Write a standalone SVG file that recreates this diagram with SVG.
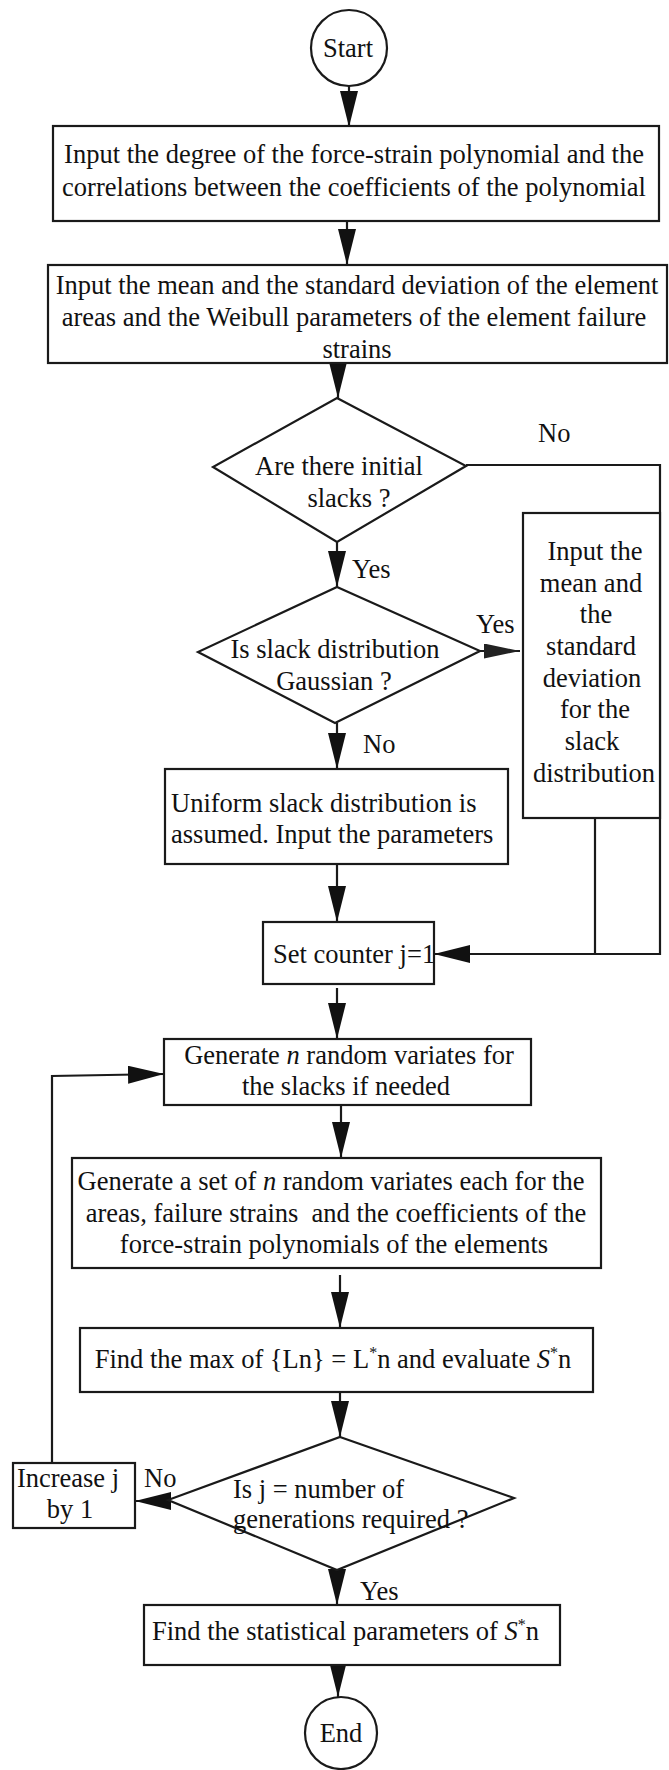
<svg xmlns="http://www.w3.org/2000/svg" width="669" height="1770" viewBox="0 0 669 1770">
<style>
.n{fill:#fff;stroke:#1a1a1a;stroke-width:2.2}
.c{fill:none;stroke:#1a1a1a;stroke-width:2.2}
text{font-family:"Liberation Serif","Times New Roman",serif;font-size:26.5px;fill:#111}
.m{text-anchor:middle}
.sup{font-size:16px}
</style>
<defs>
<marker id="ah" viewBox="0 0 36 18" refX="36" refY="9" markerWidth="36" markerHeight="18" markerUnits="userSpaceOnUse" orient="auto">
<path d="M0,0 L36,9 L0,18 z" fill="#111"/>
</marker>
<marker id="ahs" viewBox="0 0 36 15" refX="36" refY="7.5" markerWidth="36" markerHeight="15" markerUnits="userSpaceOnUse" orient="auto">
<path d="M0,0 L36,7.5 L0,15 z" fill="#222"/>
</marker>
</defs>
<rect width="669" height="1770" fill="#fff"/>

<g id="connectors">
<line class="c" x1="349" y1="86" x2="349" y2="127" marker-end="url(#ah)"/>
<line class="c" x1="347" y1="222" x2="347" y2="265" marker-end="url(#ah)"/>
<line class="c" x1="338" y1="363" x2="338" y2="398" marker-end="url(#ah)"/>
<line class="c" x1="337" y1="542" x2="337" y2="587" marker-end="url(#ah)"/>
<line class="c" x1="480" y1="651" x2="520" y2="651" marker-end="url(#ahs)"/>
<polyline class="c" points="466,465 660,465 660,954 434,954" marker-end="url(#ah)"/>
<line class="c" x1="595" y1="818" x2="595" y2="954"/>
<line class="c" x1="337" y1="723" x2="337" y2="769" marker-end="url(#ah)"/>
<line class="c" x1="337" y1="864" x2="337" y2="922" marker-end="url(#ah)"/>
<line class="c" x1="337" y1="988" x2="337" y2="1039" marker-end="url(#ah)"/>
<line class="c" x1="341" y1="1105" x2="341" y2="1158" marker-end="url(#ah)"/>
<line class="c" x1="340" y1="1275" x2="340" y2="1328" marker-end="url(#ah)"/>
<line class="c" x1="340" y1="1392" x2="340" y2="1437" marker-end="url(#ah)"/>
<line class="c" x1="168" y1="1501" x2="135" y2="1501" marker-end="url(#ah)"/>
<line class="c" x1="337" y1="1570" x2="337" y2="1605" marker-end="url(#ah)"/>
<line class="c" x1="338" y1="1665" x2="338" y2="1697" marker-end="url(#ah)"/>
<polyline class="c" points="52,1463 52,1076 164,1074" marker-end="url(#ah)"/>
</g>

<g id="start">
<circle class="n" cx="349" cy="48" r="38"/>
<text class="m" x="348" y="57">Start</text>
</g>

<g id="input-degree">
<rect class="n" x="53" y="126" width="606" height="95"/>
<text class="m" x="354" y="163">Input the degree of the force-strain polynomial and the</text>
<text class="m" x="354" y="196">correlations between the coefficients of the polynomial</text>
</g>

<g id="input-mean">
<rect class="n" x="48" y="265" width="619" height="98"/>
<text class="m" x="357" y="294">Input the mean and the standard deviation of the element</text>
<text class="m" x="354" y="326">areas and the Weibull parameters of the element failure</text>
<text class="m" x="357" y="358">strains</text>
</g>

<g id="initial-slacks">
<polygon class="n" points="337,398 466,466 337,542 213,467"/>
<text class="m" x="339" y="475">Are there initial</text>
<text class="m" x="349" y="507">slacks ?</text>
</g>

<g id="gaussian">
<polygon class="n" points="337,587 480,651 335,723 198,652"/>
<text class="m" x="335" y="658">Is slack distribution</text>
<text class="m" x="334" y="690">Gaussian ?</text>
</g>

<g id="input-gaussian">
<rect class="n" x="523" y="513" width="137" height="305"/>
<text class="m" x="595" y="560">Input the</text>
<text class="m" x="591" y="592">mean and</text>
<text class="m" x="596" y="623">the</text>
<text class="m" x="591" y="655">standard</text>
<text class="m" x="592" y="687">deviation</text>
<text class="m" x="595" y="718">for the</text>
<text class="m" x="592" y="750">slack</text>
<text class="m" x="594" y="782">distribution</text>
</g>

<g id="uniform">
<rect class="n" x="165" y="769" width="343" height="95"/>
<text x="171" y="812">Uniform slack distribution is</text>
<text x="171" y="843">assumed. Input the parameters</text>
</g>

<g id="set-counter">
<rect class="n" x="263" y="922" width="171" height="62"/>
<text x="273" y="963">Set counter j=1</text>
</g>

<g id="generate-slacks">
<rect class="n" x="164" y="1039" width="367" height="66"/>
<text class="m" x="349" y="1064">Generate <tspan font-style="italic">n</tspan> random variates for</text>
<text class="m" x="346" y="1095">the slacks if needed</text>
</g>

<g id="generate-set">
<rect class="n" x="72" y="1158" width="529" height="110"/>
<text class="m" x="331" y="1190">Generate a set of <tspan font-style="italic">n</tspan> random variates each for the</text>
<text class="m" x="336" y="1222" style="white-space:pre">areas, failure strains  and the coefficients of the</text>
<text class="m" x="334" y="1253">force-strain polynomials of the elements</text>
</g>

<g id="find-max">
<rect class="n" x="80" y="1328" width="513" height="64"/>
<text class="m" x="333" y="1368">Find the max of {Ln} = L<tspan class="sup" dy="-10">*</tspan><tspan dy="10">n and evaluate </tspan><tspan font-style="italic">S</tspan><tspan class="sup" dy="-10">*</tspan><tspan dy="10">n</tspan></text>
</g>

<g id="check-j">
<polygon class="n" points="340,1437 514,1498 337,1570 168,1500"/>
<text x="233" y="1498">Is j = number of</text>
<text x="233" y="1528">generations required ?</text>
</g>

<g id="increase-j">
<rect class="n" x="13" y="1463" width="122" height="65"/>
<text class="m" x="68" y="1487">Increase j</text>
<text class="m" x="70" y="1518">by 1</text>
</g>

<g id="statistics">
<rect class="n" x="144" y="1605" width="416" height="60"/>
<text x="152" y="1640">Find the statistical parameters of <tspan font-style="italic">S</tspan><tspan class="sup" dy="-10">*</tspan><tspan dy="10">n</tspan></text>
</g>

<g id="end">
<circle class="n" cx="341" cy="1733" r="36"/>
<text class="m" x="341" y="1742">End</text>
</g>

<g id="labels">
<text x="538" y="442">No</text>
<text x="352" y="578">Yes</text>
<text x="476" y="633">Yes</text>
<text x="363" y="753">No</text>
<text x="144" y="1487">No</text>
<text x="360" y="1600">Yes</text>
</g>
</svg>
